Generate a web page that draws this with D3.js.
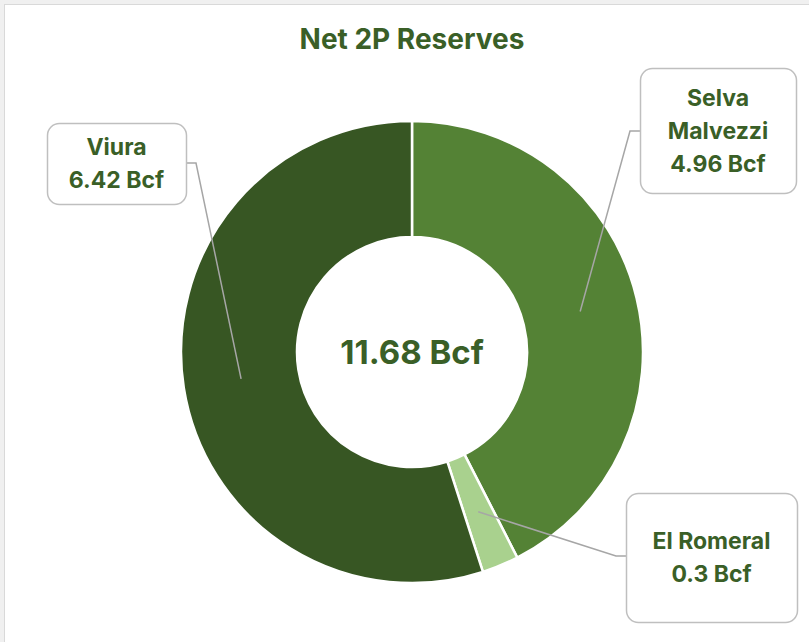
<!DOCTYPE html>
<html>
<head>
<meta charset="utf-8">
<script src="https://cdn.jsdelivr.net/npm/d3@7"></script>
<style>
  html, body { margin: 0; padding: 0; background: #f0f0f0; }
  svg { display: block; }
  text { font-family: Inter, "Open Sans", sans-serif; font-weight: 700; fill: #3a5f27; }
</style>
</head>
<body>
<script>
// Data
let fields = ["Selva Malvezzi", "El Romeral", "Viura"];
let reserves = [4.96, 0.3, 6.42];
let colors = ["#548235", "#a9d18e", "#375623"];
let labelLines = [["Selva", "Malvezzi", "4.96 Bcf"], ["El Romeral", "0.3 Bcf"], ["Viura", "6.42 Bcf"]];

// Label box layout (x, y, w, h) and which side the leader attaches
let boxes = [
    { x: 640, y: 68, w: 156, h: 125, side: "left", ly: 131 },
    { x: 626, y: 493, w: 171, h: 129, side: "left", ly: 556 },
    { x: 47, y: 123, w: 139, h: 81, side: "right", ly: 163 }
];

let width = 809, height = 642;
let cx = 412, cy = 352;
let outerR = 231, innerR = 115;

let svg = d3.select("body").append("svg")
    .attr("width", width)
    .attr("height", height);

// chart frame
svg.append("rect")
    .attr("x", 4.5).attr("y", 4.5)
    .attr("width", width).attr("height", height)
    .attr("fill", "#ffffff")
    .attr("stroke", "#d9d9d9");

svg.append("text")
    .attr("x", 412).attr("y", 49)
    .attr("text-anchor", "middle")
    .style("font-size", "28px")
    .text("Net 2P Reserves");

let pie = d3.pie().sort(null).value(d => d)(reserves);
let arc = d3.arc().innerRadius(innerR).outerRadius(outerR);
let midArc = d3.arc().innerRadius((innerR + outerR) / 2).outerRadius((innerR + outerR) / 2);

let g = svg.append("g").attr("transform", `translate(${cx},${cy})`);

g.selectAll("path.slice")
    .data(pie)
    .enter()
    .append("path")
    .attr("class", "slice")
    .attr("d", arc)
    .attr("fill", (d, i) => colors[i])
    .attr("stroke", "#ffffff")
    .attr("stroke-width", 2.5);

let total = d3.sum(reserves);
g.append("text")
    .attr("text-anchor", "middle")
    .attr("dy", "0.36em")
    .style("font-size", "33px")
    .text(`${d3.format(".2f")(total)} Bcf`);

// Leader lines
let lineGen = d3.line();
svg.append("g").selectAll("path")
    .data(pie)
    .enter()
    .append("path")
    .attr("fill", "none")
    .attr("stroke", "#a6a6a6")
    .attr("stroke-width", 1.5)
    .attr("d", (d, i) => {
        let b = boxes[i];
        let [px, py] = midArc.centroid(d);
        let ex = b.side === "left" ? b.x : b.x + b.w;
        let kx = b.side === "left" ? ex - 10 : ex + 10;
        return lineGen([[ex, b.ly], [kx, b.ly], [px + cx, py + cy]]);
    });

// Label boxes
let labels = svg.append("g").selectAll("g")
    .data(fields)
    .enter()
    .append("g");

labels.append("rect")
    .attr("x", (d, i) => boxes[i].x + 0.5)
    .attr("y", (d, i) => boxes[i].y + 0.5)
    .attr("width", (d, i) => boxes[i].w)
    .attr("height", (d, i) => boxes[i].h)
    .attr("rx", 12)
    .attr("fill", "#ffffff")
    .attr("stroke", "#bfbfbf")
    .attr("stroke-width", 1.5);

labels.each(function (d, i) {
    let b = boxes[i];
    let lines = labelLines[i];
    let lh = 33;
    let y0 = b.y + b.h / 2 - (lines.length - 1) * lh / 2;
    d3.select(this).selectAll("text")
        .data(lines)
        .enter()
        .append("text")
        .attr("x", b.x + b.w / 2)
        .attr("y", (t, j) => y0 + j * lh)
        .attr("dy", "0.36em")
        .attr("text-anchor", "middle")
        .style("font-size", "23px")
        .text(t => t);
});
</script>
</body>
</html>
